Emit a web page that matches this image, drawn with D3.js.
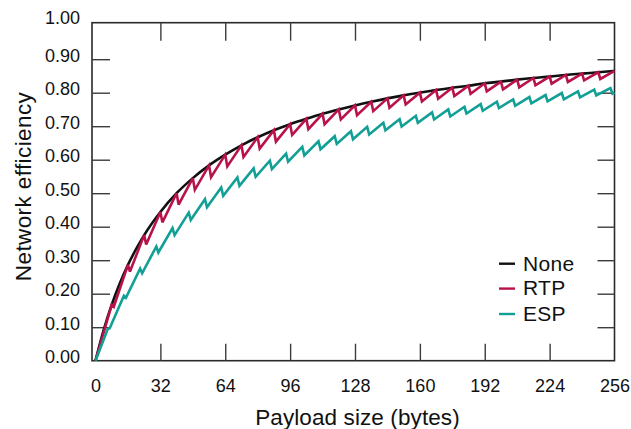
<!DOCTYPE html>
<html>
<head>
<meta charset="utf-8">
<script src="https://cdn.jsdelivr.net/npm/d3@7"></script>
<style>
  html, body { margin: 0; padding: 0; background: #fff; }
  svg { display: block; }
  text { font-family: "Liberation Sans", Arial, Helvetica, sans-serif; fill: #111; }
</style>
</head>
<body>
<svg id="chart" width="631" height="429"></svg>
<script>
// Payload size (bytes) and network efficiency for each protection scheme
const noneBytes = [0, 4, 8, 12, 16, 20, 24, 32, 40, 48, 56, 64, 72, 80, 88, 96, 104, 112, 120, 128,
  136, 144, 152, 160, 168, 176, 184, 192, 200, 208, 216, 224, 232, 240, 248, 256];
const noneEfficiency = [0, 0.091, 0.167, 0.231, 0.286, 0.333, 0.375, 0.444, 0.500, 0.545, 0.583, 0.615,
  0.643, 0.667, 0.688, 0.706, 0.722, 0.737, 0.750, 0.762, 0.773, 0.783, 0.792, 0.800, 0.808, 0.815,
  0.821, 0.828, 0.833, 0.839, 0.844, 0.848, 0.853, 0.857, 0.861, 0.865];

const rtpBytes = [0, 8, 9, 16, 17, 24, 25, 32, 33, 40, 41, 48, 49, 56, 57, 64, 65, 72, 73, 80, 81,
  88, 89, 96, 97, 104, 105, 112, 113, 120, 121, 128, 129, 136, 137, 144, 145, 152, 153, 160, 161,
  168, 169, 176, 177, 184, 185, 192, 193, 200, 201, 208, 209, 216, 217, 224, 225, 232, 233, 240, 241,
  248, 249, 256];
const rtpEfficiency = [0, 0.167, 0.161, 0.286, 0.266, 0.375, 0.347, 0.444, 0.413, 0.500, 0.466,
  0.545, 0.510, 0.583, 0.548, 0.615, 0.580, 0.643, 0.608, 0.667, 0.633, 0.688, 0.654, 0.706, 0.674,
  0.722, 0.691, 0.737, 0.706, 0.750, 0.720, 0.762, 0.733, 0.773, 0.745, 0.783, 0.755, 0.792, 0.765,
  0.800, 0.774, 0.808, 0.782, 0.815, 0.790, 0.821, 0.797, 0.828, 0.804, 0.833, 0.810, 0.839, 0.816,
  0.844, 0.822, 0.848, 0.827, 0.853, 0.832, 0.857, 0.837, 0.861, 0.841, 0.865];

const espBytes = [0, 6, 7, 14, 15, 22, 23, 30, 31, 38, 39, 46, 47, 54, 55, 62, 63, 70, 71, 78, 79,
  86, 87, 94, 95, 102, 103, 110, 111, 118, 119, 126, 127, 134, 135, 142, 143, 150, 151, 158, 159,
  166, 167, 174, 175, 182, 183, 190, 191, 198, 199, 206, 207, 214, 215, 222, 223, 230, 231, 238, 239,
  246, 247, 254, 255, 256];
const espEfficiency = [0, 0.094, 0.097, 0.194, 0.188, 0.275, 0.261, 0.341, 0.323, 0.396, 0.375,
  0.442, 0.420, 0.482, 0.458, 0.517, 0.492, 0.547, 0.522, 0.574, 0.549, 0.597, 0.572, 0.618, 0.594,
  0.638, 0.613, 0.655, 0.631, 0.670, 0.647, 0.685, 0.661, 0.698, 0.675, 0.710, 0.688, 0.721, 0.699,
  0.731, 0.710, 0.741, 0.720, 0.750, 0.729, 0.758, 0.738, 0.766, 0.746, 0.773, 0.754, 0.780, 0.761,
  0.787, 0.768, 0.793, 0.774, 0.799, 0.780, 0.804, 0.786, 0.809, 0.792, 0.814, 0.797, 0.800];

const seriesNames = ["None", "RTP", "ESP"];
const seriesColors = ["#111111", "#b8124c", "#12a096"];

const xTicks = [0, 32, 64, 96, 128, 160, 192, 224, 256];
const yTicks = [0, 0.1, 0.2, 0.3, 0.4, 0.5, 0.6, 0.7, 0.8, 0.9, 1.0];

const xLabel = "Payload size (bytes)";
const yLabel = "Network efficiency";

// ---- layout ----
const svg = d3.select("#chart");
const frame = { left: 92, right: 614.5, top: 22.7, bottom: 360.7 };

const x = d3.scaleLinear().domain([0, 256]).range([95.5, 614.5]);
const y = d3.scaleLinear().domain([0, 1]).range([360.7, 25.7]);

const tickColor = "#3c3c3c";

// plot frame
svg.append("rect")
  .attr("x", frame.left).attr("y", frame.top)
  .attr("width", frame.right - frame.left)
  .attr("height", frame.bottom - frame.top)
  .attr("fill", "none")
  .attr("stroke", "#2a2a2a")
  .attr("stroke-width", 1.6);

// left axis: inward ticks, two-decimal labels
const yAxis = svg.append("g")
  .attr("transform", `translate(${frame.left},0)`)
  .call(d3.axisLeft(y).tickValues(yTicks).tickSize(-18).tickPadding(12)
    .tickFormat(d3.format(".2f")));
yAxis.select(".domain").remove();
yAxis.selectAll(".tick line")
  .attr("stroke", tickColor).attr("stroke-width", 1.4)
  .filter(d => d === 0 || d === 1).remove();
yAxis.selectAll(".tick text")
  .attr("font-size", 18).attr("fill", "#111")
  .attr("dy", d => d === 1 ? "-0.1em" : "0.12em");

// right axis: ticks only
const yAxisR = svg.append("g")
  .attr("transform", `translate(${frame.right},0)`)
  .call(d3.axisRight(y).tickValues(yTicks.filter(d => d > 0 && d < 1)).tickSize(-17).tickFormat(""));
yAxisR.select(".domain").remove();
yAxisR.selectAll(".tick line").attr("stroke", tickColor).attr("stroke-width", 1.4);

// bottom axis
const xAxis = svg.append("g")
  .attr("transform", `translate(0,${frame.bottom})`)
  .call(d3.axisBottom(x).tickValues(xTicks).tickSize(-17).tickPadding(18.5));
xAxis.select(".domain").remove();
xAxis.selectAll(".tick line")
  .attr("stroke", tickColor).attr("stroke-width", 1.4)
  .filter(d => d === 0 || d === 256).remove();
xAxis.selectAll(".tick text").attr("font-size", 18).attr("fill", "#111");

// top axis: ticks only
const xAxisT = svg.append("g")
  .attr("transform", `translate(0,${frame.top})`)
  .call(d3.axisTop(x).tickValues(xTicks.filter(d => d > 0 && d < 256)).tickSize(-18).tickFormat(""));
xAxisT.select(".domain").remove();
xAxisT.selectAll(".tick line").attr("stroke", tickColor).attr("stroke-width", 1.4);

// axis titles
svg.append("text")
  .attr("x", 357.5).attr("y", 425)
  .attr("text-anchor", "middle")
  .attr("font-size", 22.5)
  .attr("letter-spacing", 0.1)
  .text(xLabel);

svg.append("text")
  .attr("transform", "translate(31,186.5) rotate(-90)")
  .attr("text-anchor", "middle")
  .attr("font-size", 22.5)
  .attr("letter-spacing", 0.4)
  .text(yLabel);

// efficiency curves
const series = [
  { bytes: noneBytes, eff: noneEfficiency, curve: d3.curveMonotoneX },
  { bytes: rtpBytes, eff: rtpEfficiency, curve: d3.curveLinear },
  { bytes: espBytes, eff: espEfficiency, curve: d3.curveLinear }
];

series.forEach((s, i) => {
  const pts = s.bytes.map((b, j) => [b, s.eff[j]]);
  const line = d3.line().x(d => x(d[0])).y(d => y(d[1])).curve(s.curve);
  svg.append("path")
    .datum(pts)
    .attr("d", line)
    .attr("fill", "none")
    .attr("stroke", seriesColors[i])
    .attr("stroke-width", 2.6)
    .attr("stroke-linejoin", "miter")
    .attr("stroke-miterlimit", 3);
});

// legend
const legend = svg.append("g");
const legendRows = [263.7, 288.6, 314];
seriesNames.forEach((name, i) => {
  legend.append("line")
    .attr("x1", 499).attr("x2", 515)
    .attr("y1", legendRows[i]).attr("y2", legendRows[i])
    .attr("stroke", seriesColors[i])
    .attr("stroke-width", 2.4);
  legend.append("text")
    .attr("x", 523).attr("y", legendRows[i] + 6.8)
    .attr("font-size", 21)
    .attr("letter-spacing", 0.3)
    .text(name);
});
</script>
</body>
</html>
